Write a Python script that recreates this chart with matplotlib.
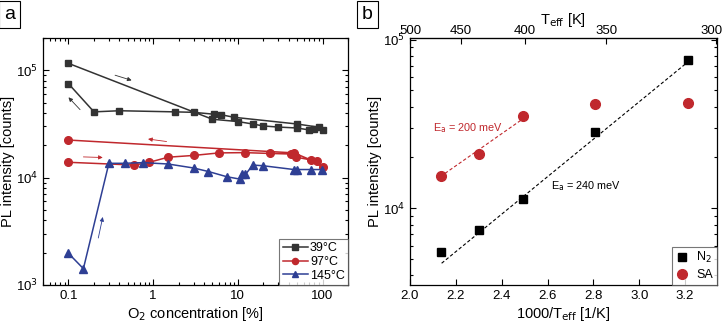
import numpy as np
import matplotlib
matplotlib.use('Agg')
import matplotlib.pyplot as plt
from matplotlib.ticker import FixedLocator, LogLocator, NullFormatter, FixedFormatter, NullLocator

# ---- panel a: PL intensity vs O2 concentration (sweep up, then back down) ----
o2_39 = [0.1, 5.0, 10, 15, 20, 30, 50, 70, 80, 100, 90, 50, 9, 6.4, 5.2, 3, 1.8, 0.4, 0.2, 0.1]
pl_39 = [1.16e5, 3.5e4, 3.33e4, 3.16e4, 3.03e4, 2.96e4, 2.9e4, 2.78e4, 2.85e4, 2.8e4,
         2.95e4, 3.16e4, 3.65e4, 3.85e4, 3.9e4, 4.06e4, 4.1e4, 4.2e4, 4.1e4, 7.5e4]
o2_97 = [0.1, 0.6, 0.9, 1.5, 3.0, 6.0, 12, 24, 42, 49, 85, 100, 73, 46, 0.1]
pl_97 = [1.39e4, 1.31e4, 1.39e4, 1.55e4, 1.61e4, 1.70e4, 1.71e4, 1.68e4, 1.66e4, 1.55e4,
         1.43e4, 1.26e4, 1.46e4, 1.70e4, 2.24e4]
o2_145 = [0.1, 0.15, 0.3, 0.46, 0.76, 1.5, 3.0, 4.5, 7.4, 10.5, 11.1, 12.3, 15, 20, 46, 50, 73, 98]
pl_145 = [1.97e3, 1.42e3, 1.36e4, 1.36e4, 1.38e4, 1.34e4, 1.23e4, 1.14e4, 1.02e4, 9.7e3,
          1.09e4, 1.07e4, 1.31e4, 1.29e4, 1.19e4, 1.19e4, 1.19e4, 1.19e4]
labels_a = ['39°C', '97°C', '145°C']

# sweep direction arrows: (x_start, y_start, x_end, y_end)
arrows_a = [(0.355, 9.0e4, 0.557, 8.06e4, '#333333'),
            (0.137, 4.3e4, 0.1, 5.6e4, '#333333'),
            (1.44, 2.17e4, 0.87, 2.29e4, '#c0282d'),
            (0.15, 1.56e4, 0.254, 1.54e4, '#c0282d'),
            (0.225, 2.74e3, 0.254, 4.3e3, '#2e3f94')]

# ---- panel b: Arrhenius plot ----
inv_t = [2.135, 2.303, 2.495, 2.809, 3.215]
pl_n2 = [5.46e3, 7.43e3, 1.14e4, 2.84e4, 7.6e4]
pl_sa = [1.56e4, 2.1e4, 3.55e4, 4.15e4, 4.19e4]
fit_n2_x = [2.138, 3.207]
fit_n2_y = [4.71e3, 7.28e4]
fit_sa_x = [2.153, 2.487]
fit_sa_y = [1.61e4, 3.35e4]
t_top = [500, 450, 400, 350, 300]

BLACK = '#333333'
RED = '#c0282d'
BLUE = '#2e3f94'

plt.rcParams['font.family'] = 'Liberation Sans'
plt.rcParams['font.size'] = 9

fig = plt.figure(figsize=(7.25, 3.26), dpi=100)
ax_a = fig.add_axes([0.0593, 0.1258, 0.4207, 0.7577])
ax_b = fig.add_axes([0.5655, 0.1258, 0.4230, 0.7567])


def style_axis(ax):
    ax.tick_params(which='both', direction='in', top=True, right=True, labelsize=9.5, width=0.8)
    ax.tick_params(which='major', length=4)
    ax.tick_params(which='minor', length=2)
    for sp in ax.spines.values():
        sp.set_linewidth(0.9)


# panel a
ax_a.plot(o2_39, pl_39, '-s', color=BLACK, ms=5, lw=1.1, label=labels_a[0])
ax_a.plot(o2_97, pl_97, '-o', color=RED, ms=5.5, lw=1.1, label=labels_a[1])
ax_a.plot(o2_145, pl_145, '-^', color=BLUE, ms=5.5, lw=1.1, label=labels_a[2])
for x0, y0, x1, y1, c in arrows_a:
    ax_a.annotate('', xy=(x1, y1), xytext=(x0, y0),
                  arrowprops=dict(arrowstyle='-|>', color=c, lw=0.6,
                                  mutation_scale=6, shrinkA=0, shrinkB=0))
ax_a.set_xscale('log')
ax_a.set_yscale('log')
ax_a.set_xlim(0.05, 200)
ax_a.set_ylim(1e3, 2e5)
ax_a.xaxis.set_major_locator(FixedLocator([0.1, 1, 10, 100]))
ax_a.xaxis.set_major_formatter(FixedFormatter(['0.1', '1', '10', '100']))
ax_a.xaxis.set_minor_locator(LogLocator(base=10, subs=np.arange(2, 10)))
ax_a.xaxis.set_minor_formatter(NullFormatter())
ax_a.yaxis.set_major_locator(FixedLocator([1e3, 1e4, 1e5]))
ax_a.yaxis.set_major_formatter(FixedFormatter(['10$^3$', '10$^4$', '10$^5$']))
ax_a.yaxis.set_minor_locator(LogLocator(base=10, subs=np.arange(2, 10)))
ax_a.yaxis.set_minor_formatter(NullFormatter())
style_axis(ax_a)
ax_a.set_xlabel('O$_2$ concentration [%]', fontsize=10.5, labelpad=2)
ax_a.set_ylabel('PL intensity [counts]', fontsize=10.5, labelpad=1)
leg = ax_a.legend(loc='lower right', fontsize=9, frameon=True, fancybox=False,
                  edgecolor='#555555', borderpad=0.25, labelspacing=0.15, handlelength=2.0,
                  handletextpad=0.2, borderaxespad=0, markerscale=0.8)
leg.get_frame().set_linewidth(0.8)

# panel b
ax_b.plot(fit_n2_x, fit_n2_y, '--', color='black', lw=0.8, dashes=(3, 2))
ax_b.plot(fit_sa_x, fit_sa_y, '--', color=RED, lw=0.8, dashes=(3, 2))
ax_b.plot(inv_t, pl_n2, 's', color='black', ms=6, ls='none', label='N$_2$')
ax_b.plot(inv_t, pl_sa, 'o', color=RED, ms=7, ls='none', label='SA')
ax_b.text(2.102, 2.98e4, 'E$_\\mathrm{a}$ = 200 meV', color=RED, fontsize=7.8, va='center')
ax_b.text(2.615, 1.35e4, 'E$_\\mathrm{a}$ = 240 meV', color='black', fontsize=7.8, va='center')
ax_b.set_yscale('log')
ax_b.set_xlim(2.0, 3.338)
ax_b.set_ylim(3.5e3, 1.02e5)
ax_b.set_xticks(np.round(np.arange(2.0, 3.21, 0.2), 1))
ax_b.xaxis.set_major_formatter(FixedFormatter(['2.0', '2.2', '2.4', '2.6', '2.8', '3.0', '3.2']))
ax_b.yaxis.set_major_locator(FixedLocator([1e4, 1e5]))
ax_b.yaxis.set_major_formatter(FixedFormatter(['10$^4$', '10$^5$']))
ax_b.yaxis.set_minor_locator(LogLocator(base=10, subs=np.arange(2, 10)))
ax_b.yaxis.set_minor_formatter(NullFormatter())
style_axis(ax_b)
ax_b.tick_params(top=False)
ax_b.set_xlabel('1000/T$_\\mathrm{eff}$ [1/K]', fontsize=10.5, labelpad=2)
ax_b.set_ylabel('PL intensity [counts]', fontsize=10.5, labelpad=1)

top = ax_b.secondary_xaxis('top', functions=(lambda x: 1000.0 / np.maximum(x, 1e-9),
                                             lambda t: 1000.0 / np.maximum(t, 1e-9)))
top.set_xticks(t_top)
# last label (300 K) sits on the figure edge; draw it separately so it stays inside
top.set_xticklabels([str(t) for t in t_top[:-1]] + [''])
top.xaxis.set_minor_locator(NullLocator())
top.tick_params(direction='in', length=4, width=0.8, labelsize=9.5, pad=1)
top.set_xlabel('T$_\\mathrm{eff}$ [K]', fontsize=10.5, labelpad=1)
ax_b.annotate(str(t_top[-1]), xy=(1000.0 / t_top[-1], 1.0), xycoords=('data', 'axes fraction'),
              xytext=(5, 1), textcoords='offset points', ha='right', va='bottom', fontsize=9.5,
              annotation_clip=False)

leg_b = ax_b.legend(loc='lower right', fontsize=9, frameon=True, fancybox=False,
                    edgecolor='#555555', borderpad=0.3, labelspacing=0.3, handlelength=1.0,
                    handletextpad=0.6, borderaxespad=0)
leg_b.get_frame().set_linewidth(0.8)

# panel letters
for xf, letter in [(0.006, 'a'), (0.499, 'b')]:
    fig.text(xf, 0.955, letter, fontsize=14, va='center', ha='left',
             bbox=dict(boxstyle='square,pad=0.25', fc='white', ec='black', lw=0.8))

fig.savefig('out.png', dpi=100)
